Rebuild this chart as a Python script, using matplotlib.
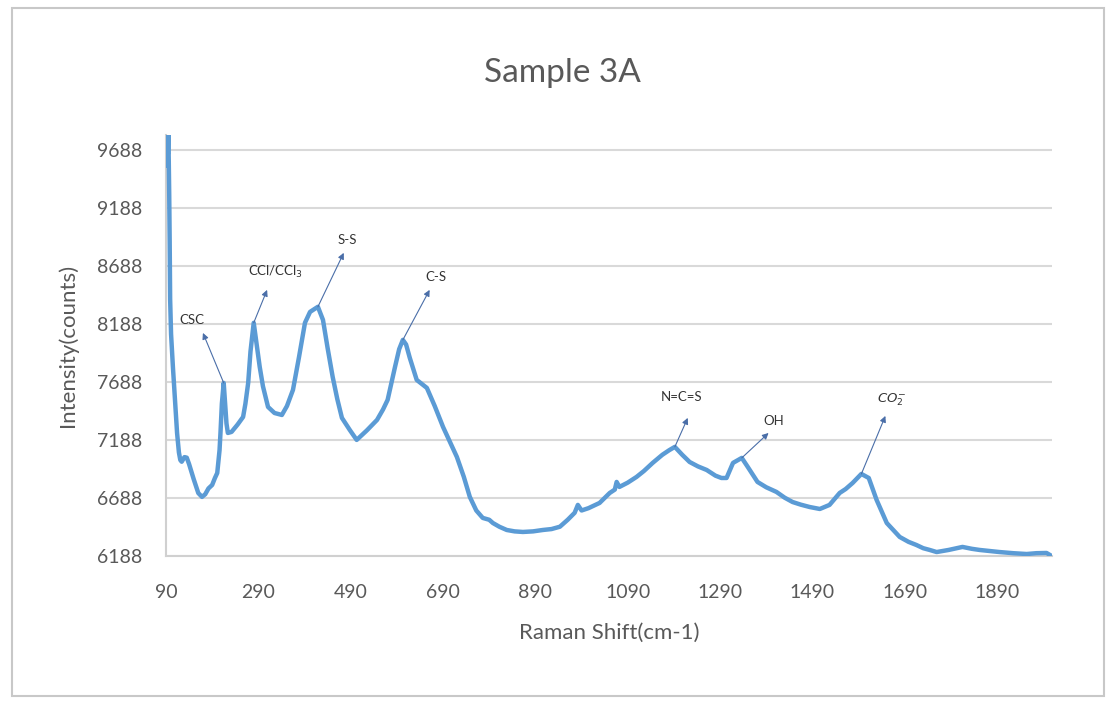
import matplotlib
matplotlib.use("Agg")
import matplotlib.pyplot as plt
from matplotlib.patches import Rectangle

# Raman spectrum, Sample 3A
shift = [90, 91, 92, 93, 94, 95, 96, 97, 98, 99, 101, 105, 110, 114, 118, 121, 124,
         130, 135, 140, 150, 160, 168, 175, 182, 190, 196, 201, 206, 208, 211, 215,
         218, 221, 224, 232, 245, 257, 262, 268, 273, 280, 285, 293, 300, 311, 325,
         341, 352, 365, 378, 391, 402, 419, 430, 440, 451, 461, 471, 488, 503, 525,
         547, 560, 570, 586, 595, 603, 610, 618, 633, 655, 672, 690, 705, 720, 735,
         748, 762, 776, 790, 798, 812, 828, 845, 863, 885, 906, 925, 943, 960, 975,
         982, 990, 1005, 1029, 1051, 1062, 1066, 1072, 1090, 1109, 1125, 1144, 1165,
         1180, 1192, 1208, 1224, 1242, 1261, 1280, 1293, 1304, 1318, 1337, 1350,
         1371, 1390, 1412, 1430, 1447, 1465, 1484, 1506, 1527, 1549, 1562, 1577,
         1596, 1612, 1629, 1651, 1679, 1698, 1715, 1730, 1744, 1759, 1785, 1815,
         1835, 1852, 1875, 1895, 1925, 1954, 1975, 1997, 2008]
counts = [9600, 9700, 9550, 9780, 9650, 9820, 9600, 9300, 8900, 8400, 8100, 7817, 7500,
          7248, 7080, 7015, 7000, 7040, 7035, 6980, 6850, 6730, 6697, 6720, 6770, 6800,
          6860, 6903, 7100, 7248, 7500, 7679, 7500, 7330, 7248, 7257, 7320, 7386, 7500,
          7679, 7950, 8197, 8050, 7817, 7650, 7472, 7420, 7403, 7480, 7619, 7900, 8197,
          8291, 8335, 8222, 7980, 7731, 7540, 7378, 7274, 7188, 7270, 7360, 7450, 7533,
          7817, 7970, 8050, 8010, 7895, 7705, 7636, 7480, 7300, 7170, 7041, 6870, 6697,
          6580, 6516, 6500, 6472, 6440, 6412, 6400, 6395, 6400, 6412, 6420, 6440, 6500,
          6560, 6628, 6580, 6600, 6645, 6731, 6760, 6826, 6783, 6820, 6869, 6920, 6990,
          7060, 7100, 7128, 7060, 6998, 6960, 6929, 6880, 6860, 6860, 6990, 7033, 6955,
          6826, 6780, 6740, 6690, 6653, 6630, 6610, 6593, 6628, 6731, 6765, 6817, 6895,
          6860, 6671, 6472, 6352, 6310, 6283, 6255, 6240, 6222, 6240, 6266, 6250, 6240,
          6230, 6222, 6212, 6205, 6212, 6214, 6188]

xticks = [90, 290, 490, 690, 890, 1090, 1290, 1490, 1690, 1890]
yticks = [6188, 6688, 7188, 7688, 8188, 8688, 9188, 9688]

# peak labels: label, peak (x, y), arrow head (x, y), text (x, y)
labels = ["CSC", "CCl/CCl$_3$", "S-S", "C-S", "N=C=S", "OH", r"$CO_2^{-}$"]
peak_x = [215, 280, 419, 603, 1192, 1337, 1596]
peak_y = [7679, 8197, 8335, 8050, 7128, 7033, 6895]
head_x = [170, 309, 475, 661, 1220, 1395, 1648]
head_y = [8110, 8481, 8800, 8481, 7378, 7248, 7395]
text_x = [146, 326, 482, 674, 1207, 1406, 1661]
text_y = [8222, 8636, 8912, 8593, 7559, 7352, 7533]

plt.rcParams['font.family'] = ['Lato', 'DejaVu Sans']
grey = '#595959'

fig = plt.figure(figsize=(11.14, 7.02), dpi=100)
fig.patches.append(Rectangle((12 / 1114, 6 / 702), 1092 / 1114, 688 / 702,
                             transform=fig.transFigure, fill=False,
                             edgecolor='#c8c8c8', lw=1.5))
ax = fig.add_axes([0.149, 0.208, 0.795, 0.600])

ax.plot(shift, counts, color='#5b9bd5', lw=3.2, solid_joinstyle='round', zorder=3)

for lab, px, py, hx, hy, tx, ty in zip(labels, peak_x, peak_y, head_x, head_y, text_x, text_y):
    ax.annotate('', xy=(hx, hy), xytext=(px, py),
                arrowprops=dict(arrowstyle='-|>', color='#4a6ea8', lw=0.8,
                                mutation_scale=9, shrinkA=0, shrinkB=0), zorder=4)
    ax.text(tx, ty, lab, fontsize=9.5, color='#333333', ha='center', va='center')

ax.set_xlim(90, 2008)
ax.set_ylim(6188, 9817)
ax.set_xticks(xticks)
ax.set_yticks(yticks)
ax.tick_params(length=0, labelsize=14, labelcolor=grey)
ax.tick_params(axis='x', pad=20)
ax.tick_params(axis='y', pad=17)
ax.grid(axis='y', color='#d9d9d9', lw=1.5)
ax.set_axisbelow(True)
for s in ['top', 'right']:
    ax.spines[s].set_visible(False)
for s in ['left', 'bottom']:
    ax.spines[s].set_color('#d0d0d0')
    ax.spines[s].set_linewidth(1.5)

fig.text(0.505, 0.896, 'Sample 3A', fontsize=24, color=grey, ha='center', va='center')
ax.set_xlabel('Raman Shift(cm-1)', fontsize=16, color=grey, labelpad=16)
ax.set_ylabel('Intensity(counts)', fontsize=16, color=grey, labelpad=14)

fig.savefig('out.png', dpi=100)
